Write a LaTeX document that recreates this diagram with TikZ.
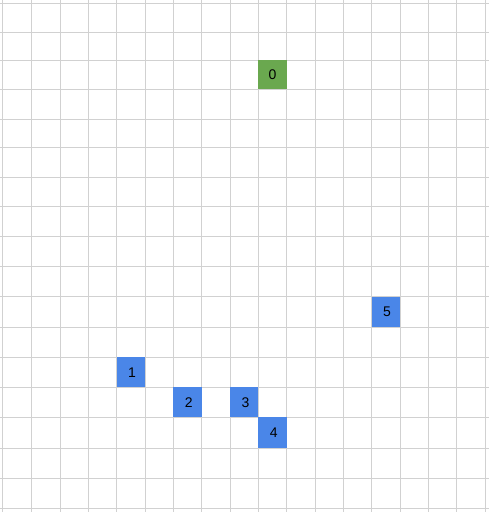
\documentclass[tikz,border=0pt]{standalone}
\usepackage{fontspec}
\setmainfont{Liberation Sans}
\begin{document}
\begin{tikzpicture}[x=1pt,y=-1pt,
  gridline/.style={draw=black!18,line width=1pt},
  cellbox/.style={rectangle,inner sep=0pt,minimum width=28.4pt,minimum height=30pt,
    font=\fontsize{14}{15}\selectfont,text=black},
  greencell/.style={cellbox,fill={rgb,255:red,106;green,168;blue,79}},
  bluecell/.style={cellbox,fill={rgb,255:red,74;green,134;blue,232}}]
\useasboundingbox (0,0) rectangle (489,512);
\fill[white] (0,0) rectangle (489,512);
\foreach \xx in {2.7,31.7,60,88.3,116.7,145,173.3,201.7,230,258.3,286.7,315,343.3,371.7,400,428.3,456.7,485}
  \draw[gridline] (\xx,0) -- (\xx,512);
\foreach \yy in {3.3,32.7,60,89.3,119.3,147.5,177,206.7,236.7,266.7,296.7,327.3,357.3,387.3,417.3,448.3,478.3,508.3}
  \draw[gridline] (0,\yy) -- (489,\yy);
\node[greencell,minimum height=29.3pt] (c0) at (272.5,74.7) {\raisebox{-1pt}{0}};
\node[bluecell,minimum height=30.6pt] (c5) at (385.85,312) {\hspace{2.5pt}\raisebox{-1pt}{5}};
\node[bluecell] (c1) at (130.85,372.3) {\hspace{2.5pt}\raisebox{-1pt}{1}};
\node[bluecell] (c2) at (187.5,402.3) {\hspace{2.5pt}\raisebox{-1pt}{2}};
\node[bluecell] (c3) at (244.15,402.3) {\hspace{2.5pt}\raisebox{-1pt}{3}};
\node[bluecell,minimum height=31pt] (c4) at (272.5,432.8) {\hspace{2.5pt}\raisebox{-1pt}{4}};
\end{tikzpicture}
\end{document}
